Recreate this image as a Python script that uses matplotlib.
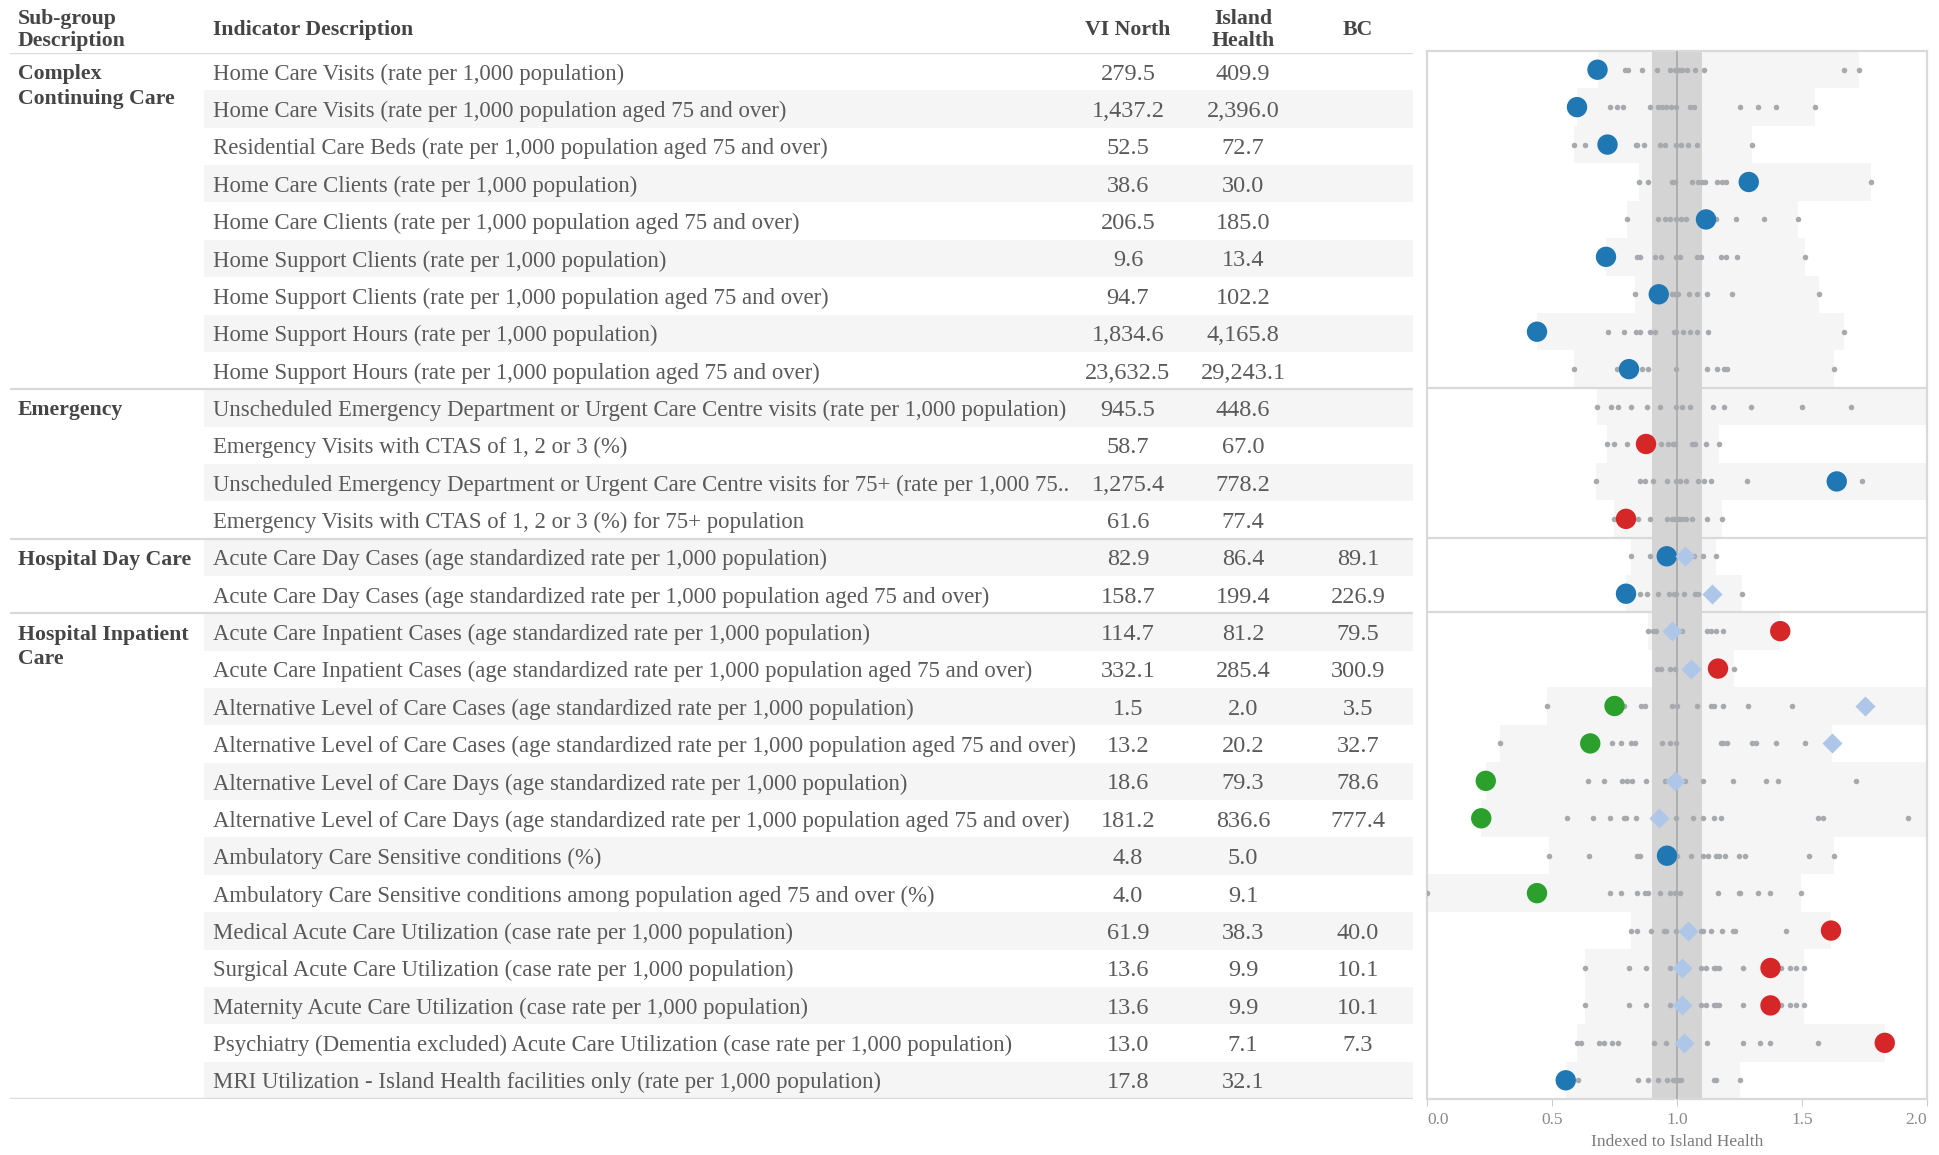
import numpy as np
import matplotlib.pyplot as plt

plt.rcParams['font.family'] = ['Liberation Serif', 'DejaVu Serif']

# --- Daten ---
groups = ["Complex\nContinuing Care", "Emergency", "Hospital Day Care", "Hospital Inpatient\nCare"]
group_sizes = [9, 4, 2, 13]

indicators = [
    "Home Care Visits (rate per 1,000 population)",
    "Home Care Visits (rate per 1,000 population aged 75 and over)",
    "Residential Care Beds (rate per 1,000 population aged 75 and over)",
    "Home Care Clients (rate per 1,000 population)",
    "Home Care Clients (rate per 1,000 population aged 75 and over)",
    "Home Support Clients (rate per 1,000 population)",
    "Home Support Clients (rate per 1,000 population aged 75 and over)",
    "Home Support Hours (rate per 1,000 population)",
    "Home Support Hours (rate per 1,000 population aged 75 and over)",
    "Unscheduled Emergency Department or Urgent Care Centre visits (rate per 1,000 population)",
    "Emergency Visits with CTAS of 1, 2 or 3 (%)",
    "Unscheduled Emergency Department or Urgent Care Centre visits for 75+ (rate per 1,000 75..",
    "Emergency Visits with CTAS of 1, 2 or 3 (%) for 75+ population",
    "Acute Care Day Cases (age standardized rate per 1,000 population)",
    "Acute Care Day Cases (age standardized rate per 1,000 population aged 75 and over)",
    "Acute Care Inpatient Cases (age standardized rate per 1,000 population)",
    "Acute Care Inpatient Cases (age standardized rate per 1,000 population aged 75 and over)",
    "Alternative Level of Care Cases (age standardized rate per 1,000 population)",
    "Alternative Level of Care Cases (age standardized rate per 1,000 population aged 75 and over)",
    "Alternative Level of Care Days (age standardized rate per 1,000 population)",
    "Alternative Level of Care Days (age standardized rate per 1,000 population aged 75 and over)",
    "Ambulatory Care Sensitive conditions (%)",
    "Ambulatory Care Sensitive conditions among population aged 75 and over (%)",
    "Medical Acute Care Utilization (case rate per 1,000 population)",
    "Surgical Acute Care Utilization (case rate per 1,000 population)",
    "Maternity Acute Care Utilization (case rate per 1,000 population)",
    "Psychiatry (Dementia excluded) Acute Care Utilization (case rate per 1,000 population)",
    "MRI Utilization - Island Health facilities only (rate per 1,000 population)",
]

vi_north = [279.5, 1437.2, 52.5, 38.6, 206.5, 9.6, 94.7, 1834.6, 23632.5,
            945.5, 58.7, 1275.4, 61.6, 82.9, 158.7, 114.7, 332.1, 1.5, 13.2,
            18.6, 181.2, 4.8, 4.0, 61.9, 13.6, 13.6, 13.0, 17.8]
island_health = [409.9, 2396.0, 72.7, 30.0, 185.0, 13.4, 102.2, 4165.8, 29243.1,
                 448.6, 67.0, 778.2, 77.4, 86.4, 199.4, 81.2, 285.4, 2.0, 20.2,
                 79.3, 836.6, 5.0, 9.1, 38.3, 9.9, 9.9, 7.1, 32.1]
bc = [None] * 13 + [89.1, 226.9, 79.5, 300.9, 3.5, 32.7, 78.6, 777.4,
                    None, None, 40.0, 10.1, 10.1, 7.3, None]

# Index (VI North / Island Health) und BC-Index
vi_index = [0.682, 0.600, 0.722, 1.287, 1.116, 0.716, 0.927, 0.440, 0.808,
            2.108, 0.876, 1.639, 0.796, 0.959, 0.796, 1.413, 1.164, 0.750,
            0.653, 0.235, 0.217, 0.960, 0.440, 1.616, 1.374, 1.374, 1.831, 0.555]
bc_index = [np.nan] * 13 + [1.031, 1.138, 0.979, 1.054, 1.750, 1.619, 0.991, 0.929,
                            np.nan, np.nan, 1.044, 1.020, 1.020, 1.028, np.nan]
vi_flag = ["b", "b", "b", "b", "b", "b", "b", "b", "b",
           "r", "r", "b", "r", "b", "b", "r", "r", "g",
           "g", "g", "g", "b", "g", "r", "r", "r", "r", "b"]

# andere LHAs (graue Punkte)
peer_index = [
    [0.793, 0.804, 0.858, 0.918, 0.973, 0.992, 1.006, 1.020, 1.041, 1.072, 1.107, 1.667, 1.728],
    [0.730, 0.759, 0.782, 0.892, 0.924, 0.938, 0.955, 0.976, 0.997, 1.052, 1.068, 1.251, 1.324, 1.395, 1.551],
    [0.586, 0.630, 0.834, 0.841, 0.869, 0.933, 0.951, 0.997, 1.017, 1.045, 1.079, 1.300],
    [0.847, 0.885, 0.979, 0.992, 1.058, 1.083, 1.100, 1.113, 1.160, 1.178, 1.196, 1.777],
    [0.801, 0.924, 0.951, 0.972, 0.997, 1.017, 1.034, 1.157, 1.236, 1.346, 1.485],
    [0.841, 0.851, 0.910, 0.935, 0.997, 1.013, 1.078, 1.096, 1.174, 1.196, 1.240, 1.512],
    [0.830, 0.979, 0.992, 1.003, 1.047, 1.078, 1.118, 1.218, 1.567],
    [0.723, 0.786, 0.836, 0.851, 0.892, 0.910, 0.987, 0.997, 1.024, 1.053, 1.080, 1.124, 1.667],
    [0.587, 0.759, 0.859, 0.882, 0.997, 1.118, 1.160, 1.188, 1.201, 1.629],
    [0.680, 0.735, 0.763, 0.814, 0.880, 0.931, 0.997, 1.020, 1.052, 1.145, 1.189, 1.296, 1.501, 1.695],
    [0.718, 0.746, 0.801, 0.936, 0.964, 0.983, 0.992, 1.058, 1.071, 1.115, 1.168],
    [0.675, 0.851, 0.873, 0.903, 0.959, 0.997, 1.010, 1.036, 1.085, 1.107, 1.135, 1.280, 1.739, 2.200],
    [0.748, 0.845, 0.892, 0.959, 0.979, 0.992, 1.006, 1.020, 1.034, 1.058, 1.119, 1.179],
    [0.814, 0.891, 1.068, 1.102, 1.157],
    [0.851, 0.880, 0.925, 0.969, 0.986, 0.997, 1.027, 1.071, 1.083, 1.258],
    [0.885, 0.903, 0.917, 1.020, 1.120, 1.134, 1.157, 1.185],
    [0.921, 0.937, 0.973, 0.992, 1.229],
    [0.481, 0.786, 0.855, 0.871, 0.979, 1.001, 1.080, 1.137, 1.146, 1.182, 1.285, 1.461, 2.200],
    [0.293, 0.741, 0.774, 0.814, 0.833, 0.940, 0.973, 0.995, 1.174, 1.185, 1.199, 1.300, 1.317, 1.395, 1.512],
    [0.642, 0.708, 0.779, 0.800, 0.821, 0.874, 0.951, 1.031, 1.102, 1.223, 1.357, 1.402, 1.717, 2.250],
    [0.558, 0.664, 0.730, 0.786, 0.797, 0.836, 0.997, 1.064, 1.102, 1.146, 1.174, 1.562, 1.584, 1.922, 2.100],
    [0.487, 0.647, 0.841, 0.851, 1.001, 1.057, 1.102, 1.123, 1.157, 1.168, 1.190, 1.249, 1.273, 1.529, 1.629],
    [0.000, 0.730, 0.774, 0.841, 0.871, 0.882, 0.931, 0.973, 0.992, 1.013, 1.163, 1.247, 1.251, 1.322, 1.373, 1.494],
    [0.817, 0.841, 0.896, 0.946, 0.954, 0.995, 1.094, 1.102, 1.137, 1.181, 1.222, 1.233, 1.434],
    [0.631, 0.807, 0.874, 0.972, 1.094, 1.116, 1.146, 1.157, 1.168, 1.262, 1.416, 1.450, 1.474, 1.507],
    [0.631, 0.807, 0.874, 0.972, 1.094, 1.116, 1.146, 1.157, 1.168, 1.262, 1.416, 1.450, 1.474, 1.507],
    [0.599, 0.617, 0.686, 0.708, 0.741, 0.763, 0.907, 0.957, 1.118, 1.262, 1.333, 1.373, 1.562],
    [0.602, 0.843, 0.885, 0.924, 0.958, 0.983, 0.992, 1.003, 1.017, 1.146, 1.155, 1.251],
]

flag_colors = {"b": "#1f77b4", "r": "#d62728", "g": "#2ca02c"}

# --- Layout (Pixel) ---
W, H = 1939, 1155
TOP, BOT = 53, 1099
n = len(indicators)
rows = np.arange(n) + 0.5
txt = "#5a5a5a"
hdr = "#454545"
line_c = "#d9d9d9"
fs = 16.4     # Beschreibung
fs_num = 17.5  # Zahlen
fs_hdr = 15.7

fig = plt.figure(figsize=(W / 100, H / 100), dpi=100)

# Tabelle
ax_t = fig.add_axes([0, 1 - BOT / H, 1, (BOT - TOP) / H])
ax_t.set_xlim(0, W)
ax_t.set_ylim(n, 0)
ax_t.axis("off")

ax_t.barh(rows[1::2], 1413 - 204, left=204, height=1, color="#f5f5f5", zorder=0)
bounds = np.cumsum([0] + group_sizes)
ax_t.hlines(bounds, 10, 1413, color=line_c, lw=1.6, zorder=1)

for i, y in enumerate(rows):
    ax_t.text(213, y, indicators[i], ha="left", va="center_baseline", fontsize=fs, color=txt)
    ax_t.text(1128, y, f"{vi_north[i]:,.1f}", ha="center", va="center_baseline", fontsize=fs_num, color=txt)
    ax_t.text(1243, y, f"{island_health[i]:,.1f}", ha="center", va="center_baseline", fontsize=fs_num, color=txt)
    if bc[i] is not None:
        ax_t.text(1358, y, f"{bc[i]:,.1f}", ha="center", va="center_baseline", fontsize=fs_num, color=txt)

for g, start in zip(groups, bounds[:-1]):
    for k, part in enumerate(g.split("\n")):
        ax_t.text(18, start + 0.5 + k * 0.66, part, ha="left", va="center_baseline",
                  fontsize=fs_hdr, fontweight="bold", color=hdr)

# Kopfzeile
for x, lines in [(18, ["Sub-group", "Description"]), (1243, ["Island", "Health"])]:
    ha = "left" if x < 100 else "center"
    for k, part in enumerate(lines):
        ax_t.text(x, -0.99 + k * 0.6, part, ha=ha, va="center_baseline",
                  fontsize=fs_hdr, fontweight="bold", color=hdr, clip_on=False)
ax_t.text(213, -0.68, "Indicator Description", ha="left", va="center_baseline",
          fontsize=fs_hdr, fontweight="bold", color=hdr, clip_on=False)
ax_t.text(1128, -0.68, "VI North", ha="center", va="center_baseline",
          fontsize=fs_hdr, fontweight="bold", color=hdr, clip_on=False)
ax_t.text(1358, -0.68, "BC", ha="center", va="center_baseline",
          fontsize=fs_hdr, fontweight="bold", color=hdr, clip_on=False)

# Index-Panel
ax_p = fig.add_axes([1427 / W, 1 - BOT / H, 500 / W, (BOT - 51) / H])
ax_p.set_xlim(0, 2)
ax_p.set_ylim(n, 0)

lo = [min(p + [v] + ([b] if not np.isnan(b) else [])) for p, v, b in zip(peer_index, vi_index, bc_index)]
hi = [max(p + [v] + ([b] if not np.isnan(b) else [])) for p, v, b in zip(peer_index, vi_index, bc_index)]
ax_p.barh(rows, np.array(hi) - np.array(lo), left=lo, height=1, color="#f5f5f5", zorder=0)
for b in bounds[1:-1]:
    ax_p.axhline(b, color=line_c, lw=1.6, zorder=1)
ax_p.axvspan(0.9, 1.1, color="#d4d4d4", lw=0, zorder=2)
ax_p.axvline(1.0, color="#a8a8a8", lw=1.2, zorder=3)

for y, p in zip(rows, peer_index):
    ax_p.scatter(p, [y] * len(p), s=16, color="#a6aaae", lw=0, zorder=4)
ax_p.scatter(vi_index, rows, s=215, c=[flag_colors[f] for f in vi_flag], lw=0, zorder=5)
ax_p.scatter(bc_index, rows, s=105, marker="D", color="#aec7e8", lw=0, zorder=6)

for s in ax_p.spines.values():
    s.set_color(line_c)
    s.set_linewidth(1.6)
ax_p.set_yticks([])
ax_p.set_xticks([0, 0.5, 1.0, 1.5, 2.0])
ax_p.set_xticklabels(["0.0", "0.5", "1.0", "1.5", "2.0"])
ax_p.tick_params(axis="x", colors="#cccccc", labelcolor="#8a8a8a", labelsize=12.5, length=5, pad=4)
lbls = ax_p.get_xticklabels()
lbls[0].set_ha("left")
lbls[-1].set_ha("right")
ax_p.set_xlabel("Indexed to Island Health", fontsize=12.5, color="#7a7a7a", labelpad=5)

fig.savefig("out.png", dpi=100)
